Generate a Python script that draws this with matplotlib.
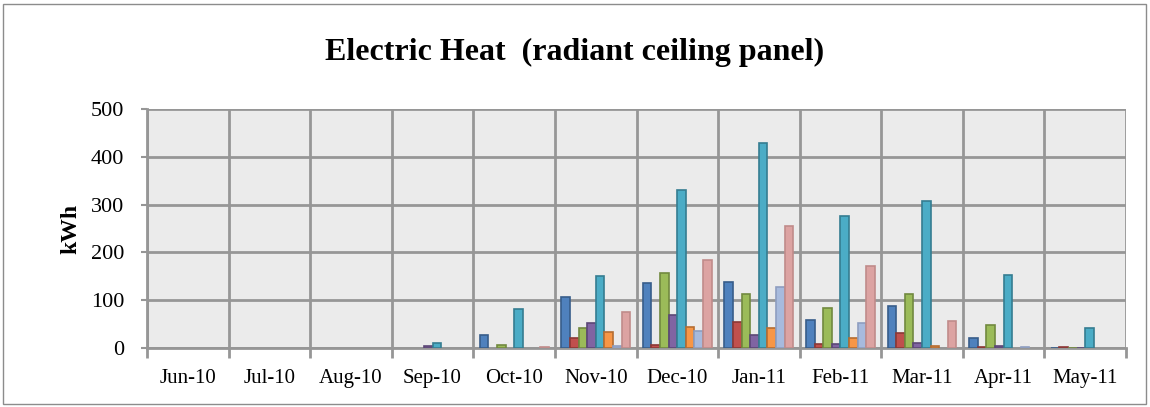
import numpy as np
import matplotlib.pyplot as plt

months = ["Jun-10", "Jul-10", "Aug-10", "Sep-10", "Oct-10", "Nov-10",
          "Dec-10", "Jan-11", "Feb-11", "Mar-11", "Apr-11", "May-11"]

# eight unnamed series (kWh)
s_blue   = [0, 0, 0, 0, 27, 107, 136, 138, 58, 87, 21, 1]
s_red    = [0, 0, 0, 0, 0, 20, 6, 54, 9, 31, 2, 2]
s_green  = [0, 0, 0, 0, 6, 41, 157, 113, 83, 113, 48, 1]
s_purple = [0, 0, 0, 4, 0, 52, 70, 27, 8, 11, 4, 1]
s_teal   = [0, 0, 0, 10, 82, 150, 330, 428, 276, 307, 153, 41]
s_orange = [0, 0, 0, 0, 0, 34, 44, 41, 21, 5, 0, 0]
s_ltblue = [0, 0, 0, 0, 0, 4, 35, 128, 52, 0, 3, 0]
s_pink   = [0, 0, 0, 0, 2, 76, 185, 255, 171, 56, 0, 0]

series = [s_blue, s_red, s_green, s_purple, s_teal, s_orange, s_ltblue, s_pink]
fills = ["#4F81BD", "#C0504D", "#9BBB59", "#8064A2", "#4BACC6", "#F79646", "#A7BADD", "#DCA3A2"]
edges = ["#385D8A", "#8C3836", "#71893F", "#5C4776", "#357D91", "#B66D31", "#8E9EC0", "#C08B8A"]

plt.rcParams["font.family"] = ["Liberation Serif", "DejaVu Serif"]

fig = plt.figure(figsize=(11.5, 4.07), dpi=100)
ax = fig.add_axes([147 / 1150, 59 / 407, 979 / 1150, 239 / 407])

x = np.arange(len(months))
w = 0.1054
for i, vals in enumerate(series):
    ec = [edges[i] if v > 0 else "none" for v in vals]
    ax.bar(x + (i - 3.5) * w, vals, width=w, color=fills[i], edgecolor=ec,
           linewidth=1.2, zorder=3)

ax.set_facecolor("#EBEBEB")
ax.set_xlim(-0.5, len(months) - 0.5)
ax.set_ylim(0, 500)
ax.set_yticks(range(0, 501, 100))
ax.set_xticks(x)
ax.set_xticklabels(months, fontsize=15)
ax.tick_params(axis="x", length=0, pad=15)
ax.tick_params(axis="y", labelsize=16, length=4.5, color="#969696", width=1.5, pad=12)

# gridlines: horizontal at ticks, vertical at category boundaries
ax.set_xticks(np.arange(-0.5, len(months), 1), minor=True)
ax.tick_params(axis="x", which="minor", length=7, color="#969696", width=2)
ax.grid(axis="y", color="#969696", linewidth=2, zorder=1)
ax.grid(axis="x", which="minor", color="#969696", linewidth=2, zorder=1)
ax.set_axisbelow(True)
for side in ["top", "right"]:
    ax.spines[side].set_visible(False)
for side in ["left", "bottom"]:
    ax.spines[side].set_color("#969696")
    ax.spines[side].set_linewidth(2)

ax.set_ylabel("kWh", fontsize=17, fontweight="bold", labelpad=7)
fig.text(0.5, 1 - 52 / 407, "Electric Heat  (radiant ceiling panel)", ha="center",
         va="center", fontsize=23, fontweight="bold")

# outer chart border
fig.patches.append(plt.Rectangle((3 / 1150, 3 / 407), 1143 / 1150, 400 / 407,
                                 transform=fig.transFigure, fill=False,
                                 edgecolor="#8C8C8C", linewidth=1))

fig.savefig("out.png", dpi=100)
plt.close(fig)
